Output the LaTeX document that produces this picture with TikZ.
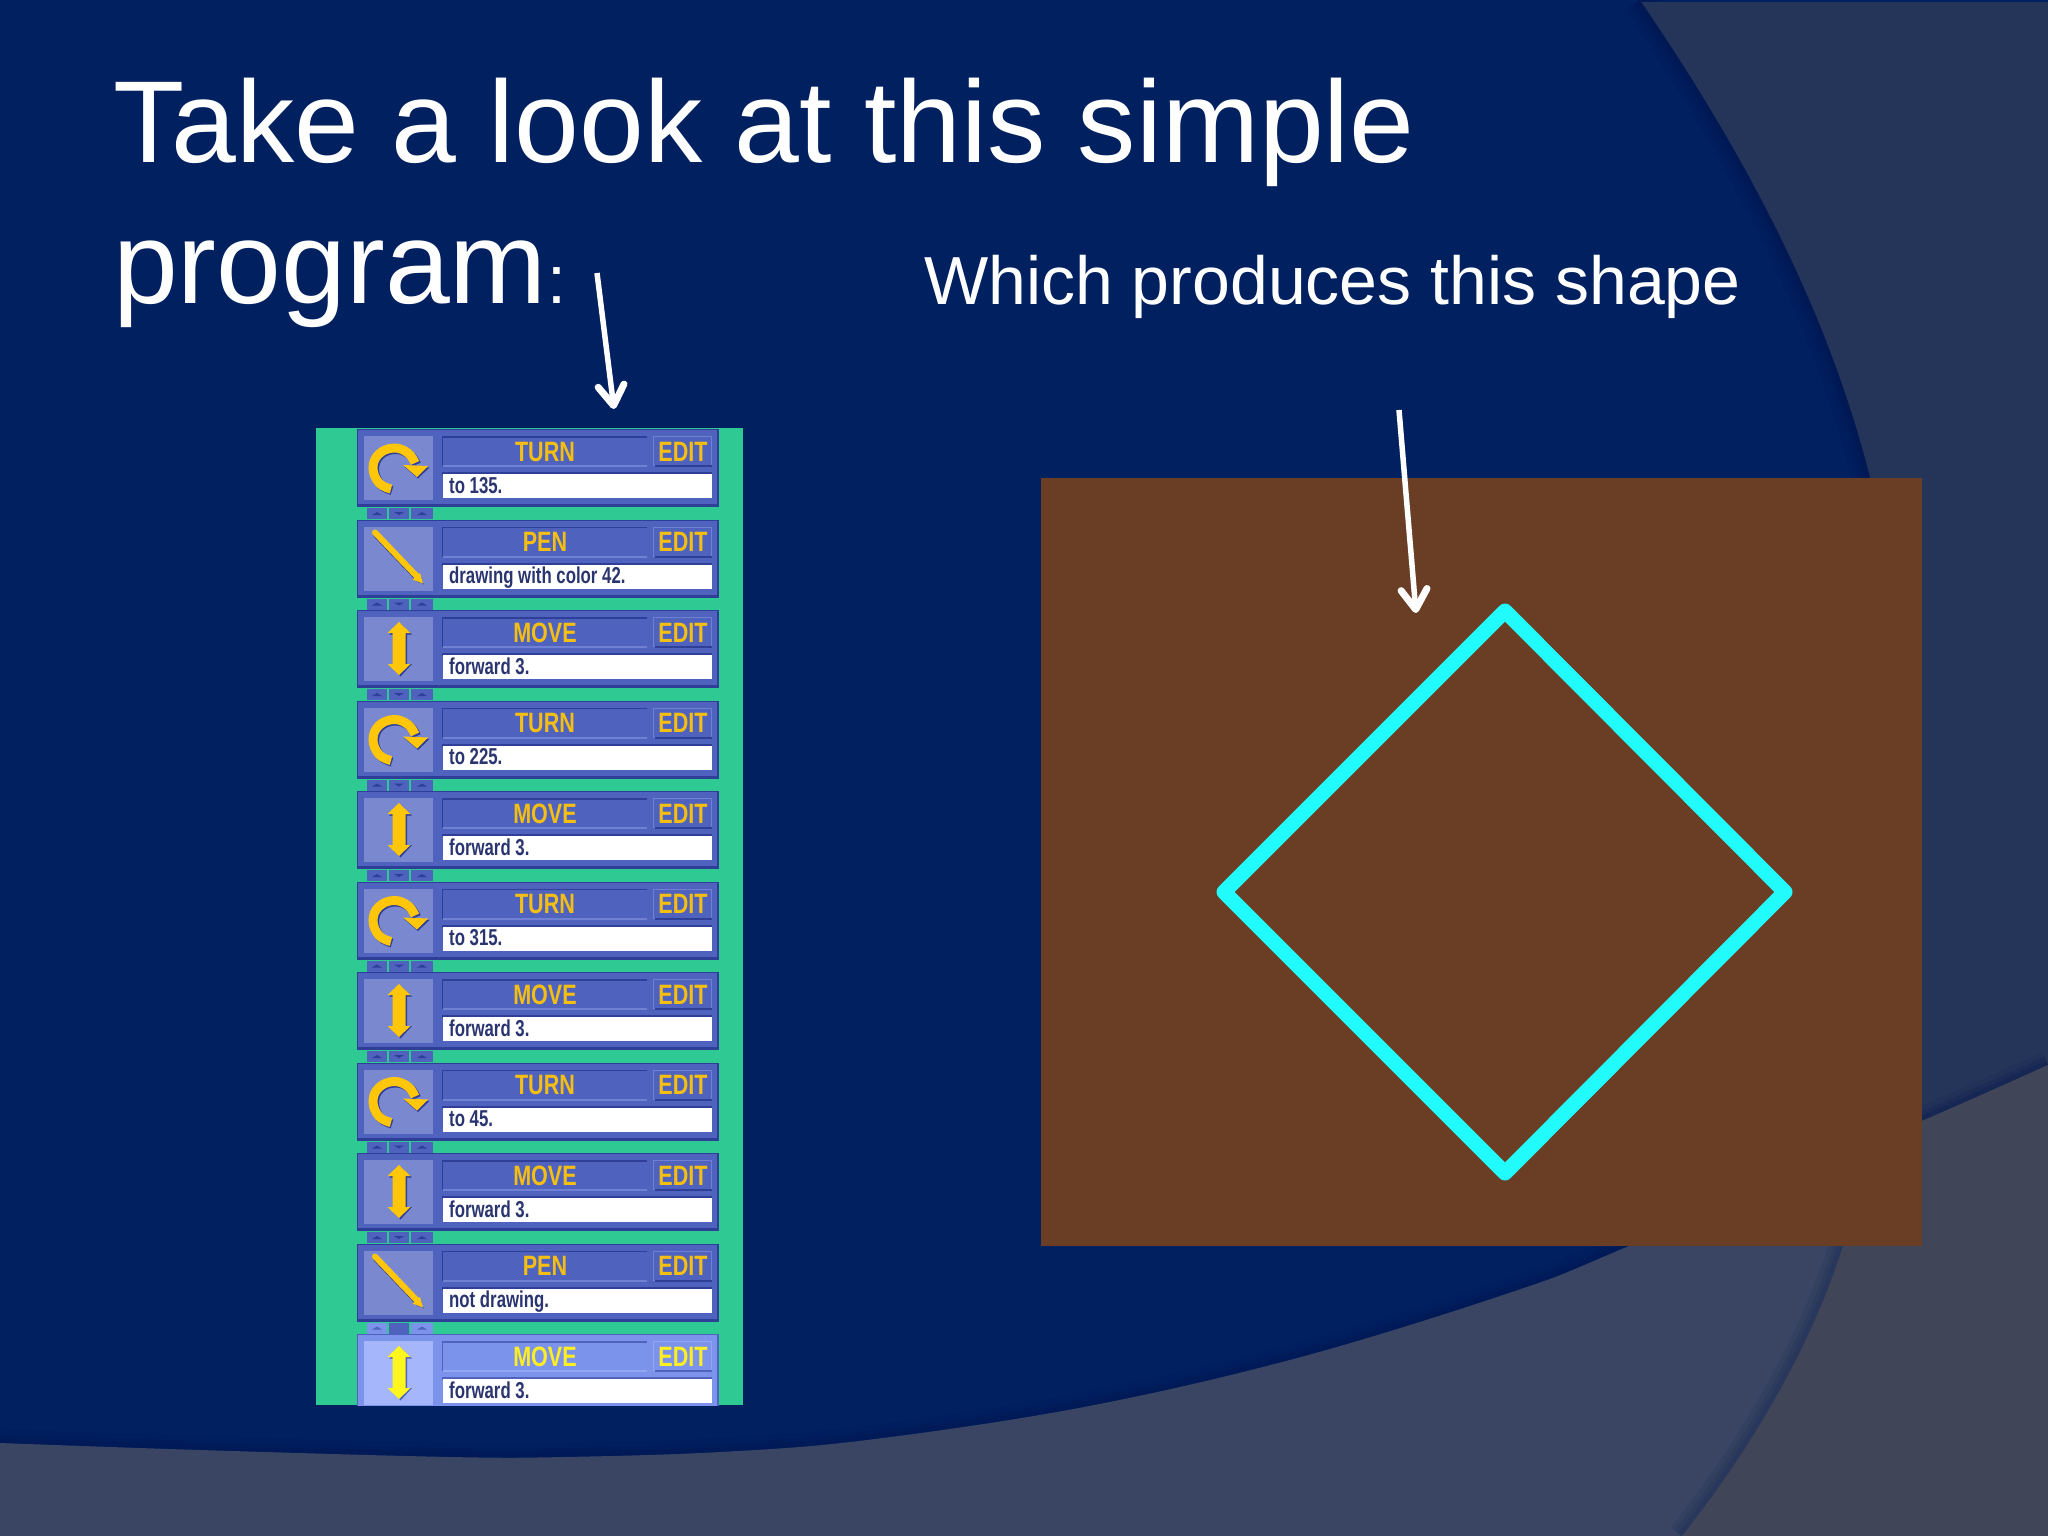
\documentclass[tikz,border=0pt]{standalone}
\usepackage{fontspec}
\setmainfont{Liberation Sans}
\newfontfamily\blockfont[FakeStretch=0.77,BoldFont={Liberation Sans Bold}]{Liberation Sans}
\newfontfamily\fieldfont[FakeStretch=0.73,BoldFont={Liberation Sans Bold}]{Liberation Sans}
\usetikzlibrary{arrows.meta}
\definecolor{navy}{HTML}{002060}
\definecolor{navyshadow}{HTML}{00124A}
\definecolor{slatetop}{HTML}{25355A}
\definecolor{bandleft}{HTML}{3A4564}
\definecolor{bandright}{HTML}{404558}
\definecolor{brownbox}{HTML}{6A3E25}
\definecolor{cyanline}{HTML}{22FBFB}
\definecolor{panelgreen}{HTML}{2FC994}
\definecolor{ink}{HTML}{2A3570}
\colorlet{blockbase}{white}\colorlet{blockdark}{white}\colorlet{blocklight}{white}\colorlet{iconbase}{white}\colorlet{icongold}{white}\colorlet{titlegold}{white}
\newcommand{\normalblock}{\definecolor{blockbase}{HTML}{4E62BE}\definecolor{blockdark}{HTML}{2F3E96}\definecolor{blocklight}{HTML}{7080D2}\definecolor{iconbase}{HTML}{7A88D0}\definecolor{icongold}{HTML}{FFC60A}\definecolor{titlegold}{HTML}{F5BE12}}
\newcommand{\lightblock}{\definecolor{blockbase}{HTML}{7C93EC}\definecolor{blockdark}{HTML}{4E62BE}\definecolor{blocklight}{HTML}{93A6F2}\definecolor{iconbase}{HTML}{A6B6FA}\definecolor{icongold}{HTML}{FFF61E}\definecolor{titlegold}{HTML}{FFEE22}}
\tikzset{
  titletext/.style={anchor=base west,inner sep=0pt,text=white,font=\fontsize{116.5}{116.5}\selectfont},
  subtext/.style={anchor=base west,inner sep=0pt,text=white,font=\fontsize{68}{68}\selectfont},
  pointer/.style={draw=white,line width=5.5pt,-{Straight Barb[length=20pt,width=26pt,line width=7pt,round]}},
  blocktitle/.style={anchor=base,inner sep=0pt,text=titlegold,font=\blockfont\bfseries\fontsize{28}{28}\selectfont},
  fieldtext/.style={anchor=base west,inner sep=0pt,text=ink,font=\fieldfont\bfseries\fontsize{23}{23}\selectfont},
}
\newcommand{\iconturn}{%
  \draw[blockdark,line width=9pt] plot[smooth,tension=.7] coordinates {(392,61.5)(380,55)(374.5,40)(380.5,26)(395.5,20.5)(409.5,25.5)(416.5,35.5)};
  \draw[icongold,line width=9pt] plot[smooth,tension=.7] coordinates {(391,60)(379,54)(373,39)(379,25)(394,19)(408,24)(415,34)};
  \fill[blockdark] (404,37.5)--(429.5,38.5)--(418,49.5)--cycle;
  \fill[icongold] (403,36)--(428,37)--(417,48)--cycle;}
\newcommand{\iconpen}{%
  \draw[blockdark,line width=6pt,line cap=round] (376,15)--(419,60);
  \fill[blockdark] (417,54)--(424,65)--(413,59)--cycle;
  \draw[icongold,line width=6pt,line cap=round] (375,13)--(417,57);
  \fill[icongold] (420,53.5)--(423,64)--(412.5,60)--cycle;}
\newcommand{\iconmove}{%
  \fill[blockdark] (400.5,13.5)--(412,24.5)--(407,24.5)--(407,54)--(412,54)--(400.5,66.5)--(389,54)--(394,54)--(394,24.5)--(389,24.5)--cycle;
  \fill[icongold] (399,12)--(410.5,23)--(405.5,23)--(405.5,54)--(410.5,54)--(399,65)--(387.5,54)--(392.5,54)--(392.5,23)--(387.5,23)--cycle;}
\newcommand{\smallbuttons}[1]{%
  \fill[blockbase] (367,79) rectangle (387,90);
  \fill[#1] (389,79) rectangle (409,90);
  \fill[blockbase] (411,79) rectangle (433,90);
  \fill[blockdark] (372,86)--(377,83)--(382,86)--cycle;
  \fill[blockdark] (394,83)--(399,86)--(404,83)--cycle;
  \fill[blockdark] (417,86)--(422,83)--(427,86)--cycle;}
% #1 name, #2 top y, #3 title, #4 field, #5 icon
\newcommand{\progblock}[5]{%
\begin{scope}[shift={(0,#2)}]
  \fill[blockdark] (357,0) rectangle (719,78);
  \fill[blockbase] (358,1) rectangle (717,75);
  \fill[iconbase] (364,7) rectangle (433,71);
  \fill[blockdark] (442,7) rectangle (647,37);
  \fill[blockbase] (443,8.5) rectangle (647,37);
  \fill[blocklight] (443,36) rectangle (647,38);
  \fill[blocklight] (653,7) rectangle (712,37);
  \fill[blockbase] (654,8) rectangle (711,36);
  \fill[blockdark] (655,36) rectangle (712,38);
  \fill[blockdark] (442,43) rectangle (712,46);
  \fill[white] (443,45) rectangle (712,69);
  #5
  \node[blocktitle] (#1t) at (545,32) {#3};
  \node[blocktitle] (#1e) at (683,32) {EDIT};
  \node[fieldtext] (#1f) at (449,64) {#4};
\end{scope}}
\begin{document}
\begin{tikzpicture}[x=1pt,y=-1pt]
\useasboundingbox (0,0) rectangle (2048,1536);
\def\circlepath{(1640,0) .. controls (1770,190) and (1835,340) .. (1870,477) .. controls (1925,700) and (1905,1030) .. (1843,1246) .. controls (1810,1350) and (1750,1450) .. (1682,1536)}
\def\bandpath{plot[smooth,tension=.6] coordinates {(0,1443)(200,1450)(450,1457)(564,1457)(720,1452)(867,1440)(1084,1407)(1301,1357)(1518,1290)(1629,1246)(1922,1121)(2048,1065)}}
% background
\fill[navy] (0,0) rectangle (2048,1536);
\foreach \w/\o in {36/.10,26/.14,16/.18,8/.22}{\draw[navyshadow,line width=\w pt,opacity=\o] \circlepath;}
\fill[slatetop] \circlepath -- (2048,1536) -- (2048,2) -- (1641,2) -- cycle;
\foreach \w/\o in {28/.10,18/.14,10/.18}{\draw[navyshadow,line width=\w pt,opacity=\o] \bandpath;}
\fill[bandleft] \bandpath -- (2048,1536) -- (0,1536) -- cycle;
\begin{scope}
  \clip \bandpath -- (2048,1536) -- (0,1536) -- cycle;
  \foreach \w/\o in {28/.10,18/.14,10/.18}{\draw[slatetop,line width=\w pt,opacity=\o*3] \circlepath;}
  \fill[bandright] \circlepath -- (2048,1536) -- (2048,0) -- cycle;
\end{scope}
% titles
\node[titletext] (title1) at (113,162) {Take a look at this simple};
\node[titletext] (title2) at (113,303) {program\fontsize{68}{68}\selectfont:};
\node[subtext] (which) at (924,304) {Which produces this shape};
% program panel
\fill[panelgreen] (316,428) rectangle (743,1405);
\normalblock
\progblock{a}{429}{TURN}{to 135.}{\iconturn}
\begin{scope}[shift={(0,429)}]\smallbuttons{blockbase}\end{scope}
\progblock{b}{519.5}{PEN}{drawing with color 42.}{\iconpen}
\begin{scope}[shift={(0,519.5)}]\smallbuttons{blockbase}\end{scope}
\progblock{c}{610}{MOVE}{forward 3.}{\iconmove}
\begin{scope}[shift={(0,610)}]\smallbuttons{blockbase}\end{scope}
\progblock{d}{700.5}{TURN}{to 225.}{\iconturn}
\begin{scope}[shift={(0,700.5)}]\smallbuttons{blockbase}\end{scope}
\progblock{e}{791}{MOVE}{forward 3.}{\iconmove}
\begin{scope}[shift={(0,791)}]\smallbuttons{blockbase}\end{scope}
\progblock{f}{881.5}{TURN}{to 315.}{\iconturn}
\begin{scope}[shift={(0,881.5)}]\smallbuttons{blockbase}\end{scope}
\progblock{g}{972}{MOVE}{forward 3.}{\iconmove}
\begin{scope}[shift={(0,972)}]\smallbuttons{blockbase}\end{scope}
\progblock{h}{1062.5}{TURN}{to 45.}{\iconturn}
\begin{scope}[shift={(0,1062.5)}]\smallbuttons{blockbase}\end{scope}
\progblock{i}{1153}{MOVE}{forward 3.}{\iconmove}
\begin{scope}[shift={(0,1153)}]\smallbuttons{blockbase}\end{scope}
\progblock{j}{1243.5}{PEN}{not drawing.}{\iconpen}
\lightblock
\begin{scope}[shift={(0,1243.5)}]\smallbuttons{blockdark}\end{scope}
\begin{scope}
  \clip (316,428) rectangle (743,1405);
  \progblock{k}{1334}{MOVE}{forward 3.}{\iconmove}
\end{scope}
% picture
\fill[brownbox] (1041,478) rectangle (1922,1246);
\coordinate (dtop) at (1505,611);
\coordinate (dright) at (1785,892);
\coordinate (dbottom) at (1505,1173);
\coordinate (dleft) at (1224,892);
\draw[cyanline,line width=15pt,line join=round] (dtop) -- (dright) -- (dbottom) -- (dleft) -- cycle;
% pointers
\coordinate (p1s) at (597,273);
\coordinate (p1e) at (614,409);
\coordinate (p2s) at (1399,410);
\coordinate (p2e) at (1416,613);
\draw[pointer] (p1s) -- (p1e);
\draw[pointer] (p2s) -- (p2e);
\end{tikzpicture}
\end{document}
